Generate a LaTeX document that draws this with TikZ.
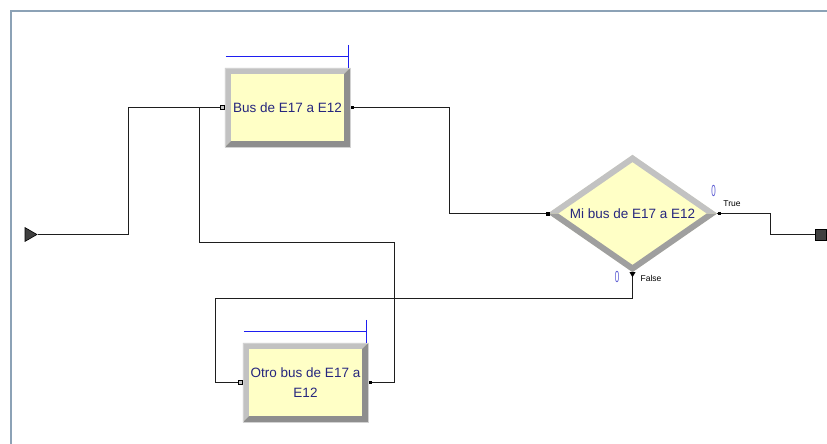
\documentclass[tikz,border=0pt]{standalone}
\usepackage{fontspec}
\setmainfont{Liberation Sans}
\usetikzlibrary{shapes.geometric}
\definecolor{modfill}{HTML}{FFFFC6}
\definecolor{bevlight}{HTML}{C2C2C2}
\definecolor{bevdark}{HTML}{8E8E8E}
\definecolor{frameblue}{HTML}{8CA2B6}
\definecolor{labnavy}{HTML}{26267E}
\definecolor{barblue}{HTML}{1E1EF0}
\definecolor{countblue}{HTML}{5A5AD2}
\definecolor{linegray}{HTML}{1E1E1E}

% bevelled edge of a process box
\newcommand{\boxbevel}[1]{%
  \fill[bevlight] (#1.south west) -- (#1.north west) -- (#1.north east)
    -- ([shift={(-6pt,-6pt)}]#1.north east) -- ([shift={(6pt,-6pt)}]#1.north west)
    -- ([shift={(6pt,6pt)}]#1.south west) -- cycle;
  \fill[bevdark] (#1.north east) -- (#1.south east) -- (#1.south west)
    -- ([shift={(6pt,6pt)}]#1.south west) -- ([shift={(-6pt,6pt)}]#1.south east)
    -- ([shift={(-6pt,-6pt)}]#1.north east) -- cycle;
  \draw[gray!35,line width=0.5pt] (#1.south west) rectangle (#1.north east);
  % resource bar above the box
  \draw[barblue,line width=0.8pt] ([shift={(1pt,11pt)}]#1.north west) -- ([shift={(-2pt,11pt)}]#1.north east);
  \draw[barblue,line width=0.8pt] ([shift={(-2pt,23pt)}]#1.north east) -- ([xshift=-2pt]#1.north east);
}
% bevelled edge of a decide diamond
\newcommand{\decbevel}[1]{%
  \fill[bevlight] (#1.west) -- (#1.north) -- (#1.east) -- ([xshift=-10.5pt]#1.east)
    -- ([yshift=-7.3pt]#1.north) -- ([xshift=10.5pt]#1.west) -- cycle;
  \fill[bevdark!85] (#1.east) -- (#1.south) -- (#1.west) -- ([xshift=10.5pt]#1.west)
    -- ([yshift=7.3pt]#1.south) -- ([xshift=-10.5pt]#1.east) -- cycle;
}

\begin{document}
\begin{tikzpicture}[x=1pt,y=-1pt,
    procbox/.style={rectangle,fill=modfill,inner sep=0pt,minimum width=125pt,
      minimum height=79pt,text=labnavy,align=center,font=\fontsize{13.5}{20}\selectfont},
    decbox/.style={diamond,aspect=1.5,fill=modfill,inner sep=0pt,minimum width=169pt,
      minimum height=117pt,text=labnavy,font=\fontsize{13.5}{16}\selectfont},
    conn/.style={linegray,line width=1.1pt},
    inport/.style={rectangle,draw=black,fill=gray!45,line width=0.6pt,minimum size=4pt,inner sep=0pt},
    outport/.style={rectangle,fill=black,minimum size=3pt,inner sep=0pt},
    tiny/.style={font=\fontsize{8.5}{9}\selectfont,inner sep=0pt},
    count/.style={text=countblue,font=\fontsize{16}{16}\selectfont,xscale=0.5,inner sep=0pt}]
  \useasboundingbox (0,0) rectangle (827,444);
  % window frame
  \draw[frameblue,line width=2pt] (11,446) -- (11,11) -- (829,11);

  % modules
  \node[isosceles triangle,fill=black!75,draw=black,line width=0.6pt,inner sep=0pt,
    minimum width=13pt,minimum height=12pt,isosceles triangle apex angle=60] (arrive) at (29,234.5) {};
  \node[procbox] (bus) at (287.5,107.5) {Bus de E17 a E12};
  \node[procbox] (otro) at (305.5,382.5) {Otro bus de E17 a\\E12};
  \node[decbox] (mibus) at (632.5,213.5) {Mi bus de E17 a E12};
  \node[rectangle,fill=black!75,draw=black,line width=0.6pt,minimum size=11pt,inner sep=0pt] (leave) at (821,234.5) {};
  \boxbevel{bus}
  \boxbevel{otro}
  \decbevel{mibus}

  % ports
  \coordinate (busin) at ([xshift=-3pt]bus.west);
  \coordinate (busout) at ([xshift=2pt]bus.east);
  \coordinate (otroin) at ([xshift=-2.5pt]otro.west);
  \coordinate (otroout) at ([xshift=2pt]otro.east);

  % connectors
  \draw[conn] (arrive.east) -- ++(91,0) |- (busin);
  \draw[conn] (busout) -- ++(97,0) |- (mibus.west);
  \draw[conn] (mibus.east) -- ++(53,0) |- (leave.west);
  \draw[conn] (mibus.south) -- ++(0,26) -| ([xshift=-25pt]otroin) -- (otroin);
  \draw[conn] (otroout) -- ++(24,0) -- ++(0,-140) -| ([xshift=-22pt]busin) -- (busin);

  \node[inport] at (busin) {};
  \node[inport] at (otroin) {};
  \node[outport] at (busout) {};
  \node[outport] at (otroout) {};
  \node[rectangle,fill=black,minimum size=4pt,inner sep=0pt] at (mibus.west) {};
  \node[outport] at ([xshift=2pt]mibus.east) {};
  \fill (mibus.south) ++(-3,0) -- ++(6,0) -- ++(-3,5) -- cycle;

  % branch labels
  \node[tiny] (truelab) at (732,204) {True};
  \node[tiny] (falselab) at (651,278) {False};
  \node[count] (truecount) at (713.5,191) {0};
  \node[count] (falsecount) at (617,277) {0};
\end{tikzpicture}
\end{document}
